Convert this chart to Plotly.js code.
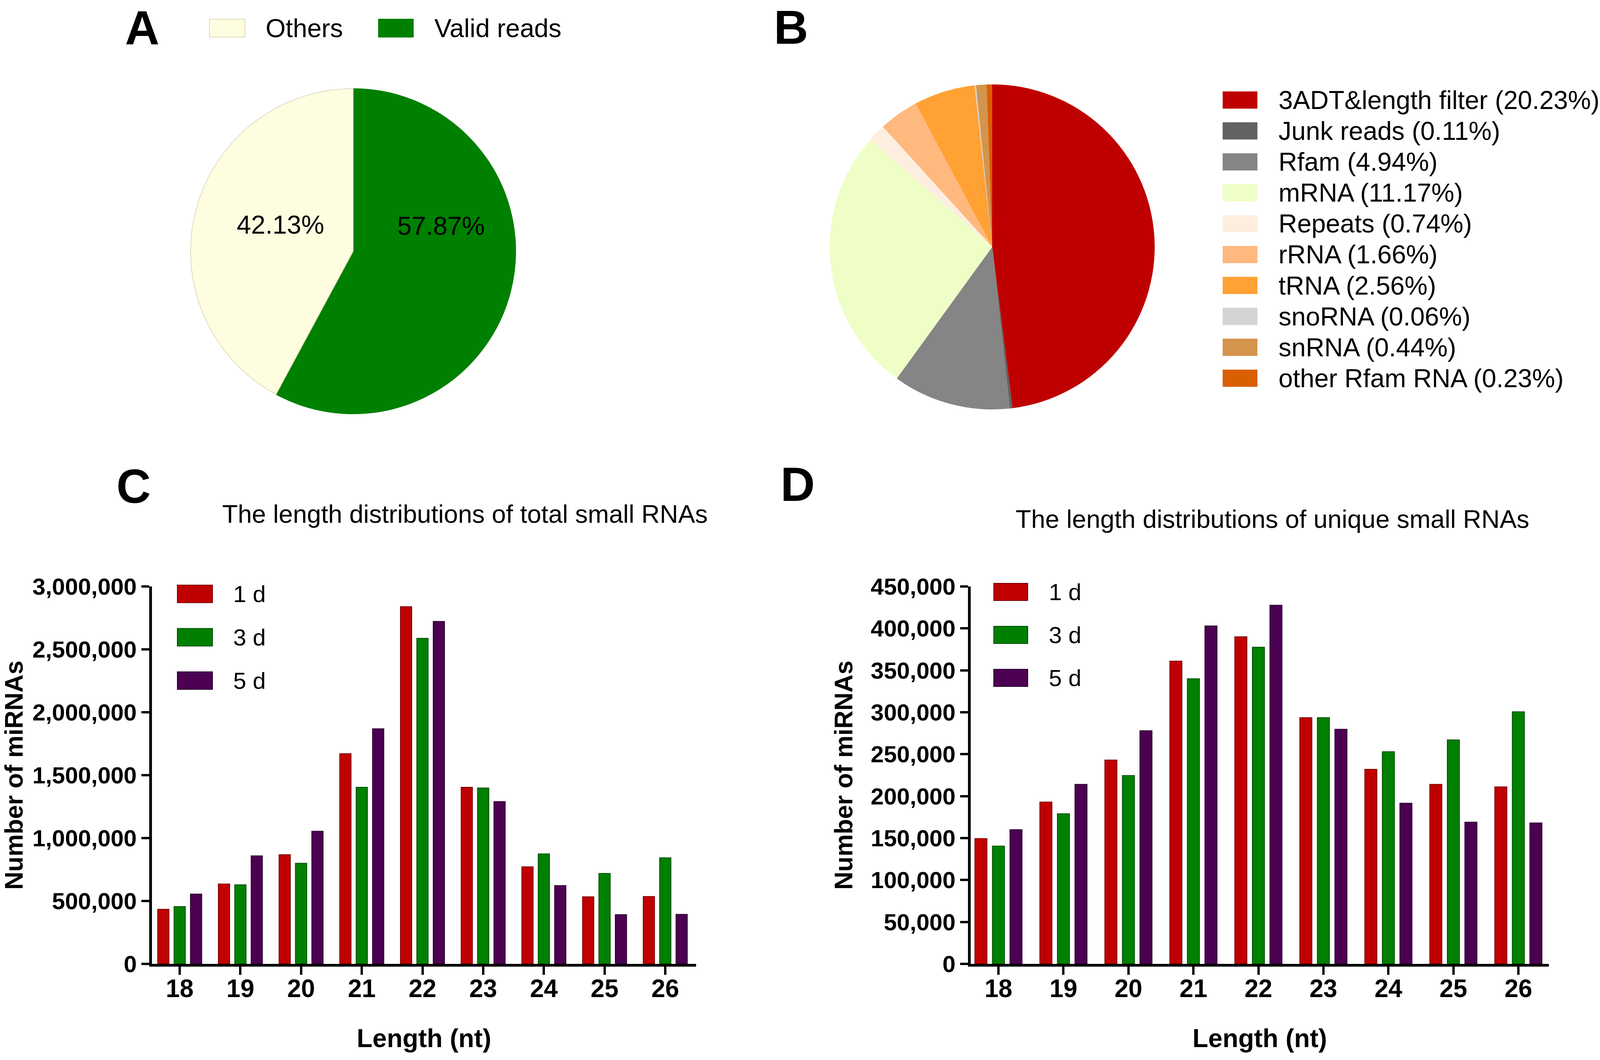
<!DOCTYPE html>
<html>
<head>
<meta charset="utf-8">
<script src="https://cdn.plot.ly/plotly-3.0.1.min.js"></script>
<style>html,body{margin:0;padding:0;background:#fff;}#chart{width:4131px;height:2713px;}</style>
</head>
<body>
<div id="chart"></div>
<script>
// ---------- DATA ----------
const pieALabels = ["Others", "Valid reads"];
const pieAValues = [42.13, 57.87];
const pieAColors = ["#fffde0", "#008000"];

const pieBLabels = ["3ADT&length filter", "Junk reads", "Rfam", "mRNA", "Repeats", "rRNA", "tRNA", "snoRNA", "snRNA", "other Rfam RNA"];
const pieBValues = [20.23, 0.11, 4.94, 11.17, 0.74, 1.66, 2.56, 0.06, 0.44, 0.23];
const pieBColors = ["#bf0000", "#626262", "#858585", "#effec6", "#fdeee0", "#ffb87e", "#ffa133", "#d4d4d4", "#d4944c", "#d95f02"];

const lengths = [18, 19, 20, 21, 22, 23, 24, 25, 26];
const seriesNames = ["1 d", "3 d", "5 d"];
const seriesColors = ["#c00000", "#008000", "#4b0052"];
const seriesEdge = ["#7a0000", "#004a00", "#2a002e"];

const total1d = [434000, 635000, 868000, 1671000, 2839000, 1404000, 772000, 533000, 536000];
const total3d = [456000, 629000, 800000, 1404000, 2588000, 1398000, 874000, 719000, 843000];
const total5d = [555000, 859000, 1054000, 1869000, 2722000, 1290000, 623000, 391000, 394000];

const unique1d = [149400, 193000, 243000, 361000, 390000, 293600, 232000, 214000, 211000];
const unique3d = [140500, 179000, 224500, 340000, 377600, 293600, 253000, 267000, 300600];
const unique5d = [160000, 214000, 278000, 403000, 427600, 279700, 191600, 169000, 168000];

const titleC = "The length distributions of total small RNAs";
const titleD = "The length distributions of unique small RNAs";
const yTitle = "Number of miRNAs";
const xTitle = "Length (nt)";

// ---------- LAYOUT HELPERS ----------
const W = 4131, H = 2713;
const px = x => x / W;
const py = y => 1 - y / H;
const FONT = "Liberation Sans, Arial, Helvetica, sans-serif";

const traces = [];

// Pie A (drawn clockwise from 12 o'clock: Valid reads first, Others after)
const pieAOrder = [1, 0];
traces.push({
  type: "pie",
  labels: pieAOrder.map(i => pieALabels[i]),
  values: pieAOrder.map(i => pieAValues[i]),
  sort: false, direction: "clockwise", rotation: 0,
  marker: { colors: pieAOrder.map(i => pieAColors[i]), line: { color: ["#008000", "#dcdcc0"], width: 2 } },
  textinfo: "none",
  domain: { x: [px(488), px(1320)], y: [py(1059), py(227)] },
  showlegend: false, hoverinfo: "skip"
});

// Pie B
traces.push({
  type: "pie", labels: pieBLabels, values: pieBValues, sort: false,
  direction: "clockwise", rotation: 0,
  marker: { colors: pieBColors, line: { width: 0 } },
  textinfo: "none",
  domain: { x: [px(2124), px(2956)], y: [py(1048), py(216)] },
  showlegend: false, hoverinfo: "skip"
});

// Bars C
[total1d, total3d, total5d].forEach((vals, i) => {
  traces.push({
    type: "bar", x: lengths, y: vals, name: seriesNames[i], xaxis: "x", yaxis: "y",
    marker: { color: seriesColors[i], line: { color: seriesEdge[i], width: 2 } },
    showlegend: false, hoverinfo: "skip"
  });
});
// Bars D
[unique1d, unique3d, unique5d].forEach((vals, i) => {
  traces.push({
    type: "bar", x: lengths, y: vals, name: seriesNames[i], xaxis: "x2", yaxis: "y2",
    marker: { color: seriesColors[i], line: { color: seriesEdge[i], width: 2 } },
    showlegend: false, hoverinfo: "skip"
  });
});

function xAxis(domain, anchor, range) {
  return {
    domain: domain, anchor: anchor, range: range, type: "linear",
    tickmode: "array", tickvals: lengths, ticktext: lengths.map(String),
    showline: true, linecolor: "#000", linewidth: 7, mirror: false,
    ticks: "outside", ticklen: 21, tickwidth: 6, tickcolor: "#000",
    showgrid: false, zeroline: false, fixedrange: true,
    tickfont: { family: FONT, size: 64, color: "#000", weight: "bold" },
    ticklabelstandoff: -20,
    title: { text: xTitle, font: { family: FONT, size: 66, color: "#000", weight: "bold" }, standoff: 72 }
  };
}
function yAxis(domain, anchor, range, dtick) {
  return {
    domain: domain, anchor: anchor, range: range, dtick: dtick, tick0: 0,
    tickformat: ",d",
    showline: true, linecolor: "#000", linewidth: 7, mirror: false,
    ticks: "outside", ticklen: 20, tickwidth: 6, tickcolor: "#000",
    showgrid: false, zeroline: false, fixedrange: true,
    tickfont: { family: FONT, size: 60, color: "#000", weight: "bold" },
    ticklabelstandoff: 0,
    title: { text: yTitle, font: { family: FONT, size: 64, color: "#000", weight: "bold" }, standoff: 28 }
  };
}

const annotations = [];
const shapes = [];
function txt(x, y, text, size, opts) {
  annotations.push(Object.assign({
    xref: "paper", yref: "paper", x: px(x), y: py(y), text: text, showarrow: false,
    xanchor: "center", yanchor: "middle",
    font: { family: FONT, size: size, color: "#000" }
  }, opts || {}));
}
function swatch(x0, x1, yc, h, color, edge) {
  shapes.push({
    type: "rect", xref: "paper", yref: "paper",
    x0: px(x0), x1: px(x1), y0: py(yc + h / 2), y1: py(yc - h / 2),
    fillcolor: color, line: { color: edge, width: 2 }
  });
}

// panel letters
const bold = size => ({ font: { family: FONT, size: size, color: "#000", weight: "bold" } });
txt(364, 72, "A", 122, bold(122));
annotations.push({ xref: "paper", yref: "paper", x: px(2025), y: 1, yanchor: "top", xanchor: "center",
  text: "B", showarrow: false, font: { family: FONT, size: 122, color: "#000", weight: "bold" } });
txt(342, 1245, "C", 122, bold(122));
txt(2042, 1240, "D", 122, bold(122));

// panel titles
txt(1190, 1315, titleC, 65);
txt(3257, 1328, titleD, 65);

// pie A slice labels (percentages from the data)
const pieATextPos = [[718, 575], [1129, 578]];
pieALabels.forEach((lab, i) => {
  txt(pieATextPos[i][0], pieATextPos[i][1], pieAValues[i].toFixed(2) + "%", 66);
});

// legend A (horizontal)
const legAx = [[536, 627, 678], [969, 1058, 1110]];
pieALabels.forEach((lab, i) => {
  swatch(legAx[i][0], legAx[i][1], 72, 46, pieAColors[i], i === 0 ? "#dcdcc0" : pieAColors[i]);
  txt(legAx[i][2], 72, lab, 66, { xanchor: "left" });
});

// legend B (vertical)
pieBLabels.forEach((lab, i) => {
  const yc = 256 + i * 79.1;
  swatch(3131, 3218, yc, 42, pieBColors[i], pieBColors[i]);
  txt(3271, yc, lab + " (" + pieBValues[i].toFixed(2) + "%)", 66, { xanchor: "left" });
});

// legends C and D
seriesNames.forEach((nm, i) => {
  const ycC = 1520 + i * 111;
  swatch(454, 544, ycC, 45, seriesColors[i], seriesEdge[i]);
  txt(595, ycC, nm, 60, { xanchor: "left" });
  const ycD = 1515 + i * 110;
  swatch(2544, 2631, ycD, 44, seriesColors[i], seriesEdge[i]);
  txt(2683, ycD, nm, 60, { xanchor: "left" });
});

const layout = {
  width: W, height: H,
  margin: { l: 0, r: 0, t: 0, b: 0 },
  paper_bgcolor: "#fff", plot_bgcolor: "#fff",
  font: { family: FONT, color: "#000" },
  barmode: "group", bargap: 0.19, bargroupgap: 0.31,
  showlegend: false,
  xaxis: xAxis([px(389), px(1782)], "y", [17.543, 26.508]),
  yaxis: yAxis([py(2467), py(1501)], "x", [0, 3000000], 500000),
  xaxis2: xAxis([px(2485), px(3965)], "y2", [17.573, 26.469]),
  yaxis2: yAxis([py(2467), py(1501)], "x2", [0, 450000], 50000),
  annotations: annotations,
  shapes: shapes
};

Plotly.newPlot("chart", traces, layout, { displayModeBar: false, staticPlot: true });
</script>
</body>
</html>
